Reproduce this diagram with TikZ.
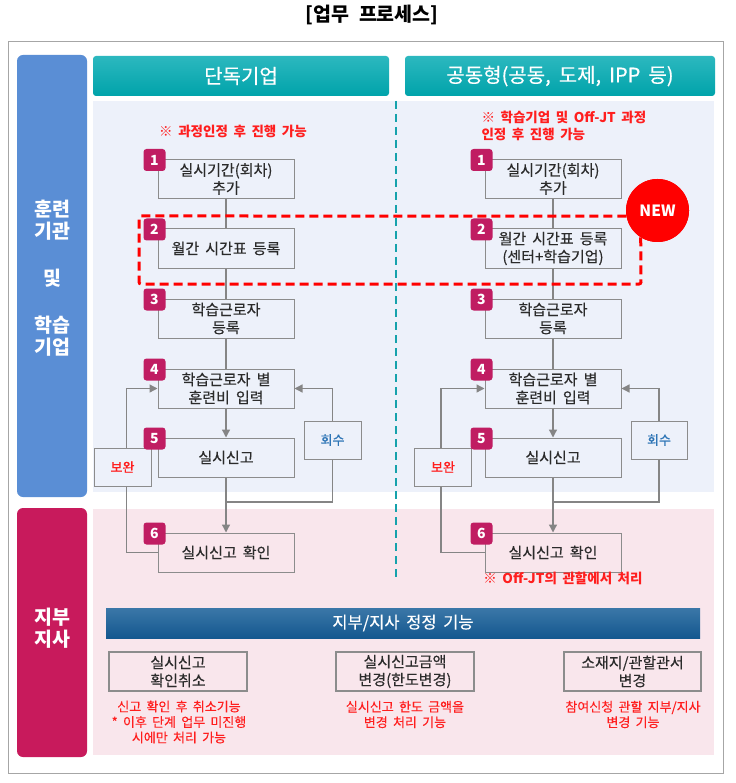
\documentclass[tikz,border=0pt]{standalone}
\usepackage{fontspec}
\setmainfont{Noto Sans CJK KR}[WordSpace=1.8, UprightFeatures={FakeBold=0.3}]
\usetikzlibrary{arrows.meta}
\definecolor{framegray}{HTML}{A6A6A6}
\definecolor{barblue}{HTML}{5A8ED5}
\definecolor{barmag}{HTML}{C81A5C}
\definecolor{badgemag}{HTML}{C01D62}
\definecolor{bgblue}{HTML}{EDF1FA}
\definecolor{bgpink}{HTML}{F9E6EC}
\definecolor{tealtop}{HTML}{2CB8BF}
\definecolor{tealbot}{HTML}{00A3AA}
\definecolor{navytop}{HTML}{3B77A8}
\definecolor{navybot}{HTML}{14588F}
\definecolor{linegray}{HTML}{858585}
\definecolor{boxline}{HTML}{8C8C8C}
\definecolor{txtdark}{HTML}{2B2B2B}
\definecolor{notered}{HTML}{FF1E1E}
\definecolor{newred}{HTML}{FF0000}
\definecolor{dashteal}{HTML}{16A2AC}
\definecolor{hoisublue}{HTML}{2E75B6}
\begin{document}
\begin{tikzpicture}[x=1pt,y=-1pt,
  procbox/.style={draw=boxline, line width=1pt, minimum width=136pt, minimum height=39pt,
    align=center, inner sep=1pt, text=txtdark, font=\fontsize{15}{18}\selectfont},
  sidebox/.style={draw=boxline, line width=1pt, fill=bgblue, minimum width=57pt, minimum height=38pt,
    inner sep=0pt, font=\fontsize{13}{16}\selectfont},
  badge/.style={fill=badgemag, rounded corners=3pt, minimum size=22pt, inner sep=0pt,
    text=white, font=\fontsize{14}{16}\selectfont\bfseries},
  header/.style={rounded corners=3pt, top color=tealtop, bottom color=tealbot, minimum height=40pt,
    text=white, font=\fontsize{20}{24}\selectfont},
  sidetxt/.style={text=white, align=center, font=\fontsize{19.5}{22}\selectfont\bfseries},
  note/.style={text=notered, font=\fontsize{13.5}{16.5}\selectfont\bfseries},
  subnote/.style={text=notered, align=center, font=\fontsize{13}{15.5}\selectfont},
  conn/.style={draw=linegray, line width=1.3pt},
  arr/.style={conn, -{Triangle[length=8pt,width=8pt]}},
  reddash/.style={draw=newred, line width=3pt, dash pattern=on 9pt off 5pt, rounded corners=2pt},
  botbox/.style={draw=boxline, line width=1.2pt, minimum width=138pt, minimum height=39pt,
    align=center, inner sep=1pt, text=txtdark, font=\fontsize{15}{18}\selectfont}
]
\useasboundingbox (0,0) rectangle (735,783);
\fill[white] (0,0) rectangle (735,783);

% title and frame
\node[font=\fontsize{19.5}{22}\selectfont\bfseries] (title) at (372,15) {[업무\hspace{10pt}프로세스]};
\draw[framegray, line width=1pt] (8.5,41.5) rectangle (723,773);

% side bars
\fill[barblue, rounded corners=6pt] (17,55) rectangle (87,497);
\fill[barmag, rounded corners=6pt] (17,508) rectangle (87,757);
\node[sidetxt] (sideA) at (52,278) {훈련\\기관\\[25pt]및\\[25pt]학습\\기업};
\node[sidetxt] (sideB) at (52,628) {지부\\지사};

% backgrounds
\fill[bgblue] (93,101) rectangle (714,492);
\fill[bgpink] (93,509) rectangle (714,755);

% headers
\node[header, minimum width=296pt] (hdA) at (241,76) {단독기업};
\node[header, minimum width=310pt] (hdB) at (560,76) {공동형(공동, 도제, IPP 등)};

% dashed divider
\draw[dashteal, line width=2.2pt, dash pattern=on 8pt off 5pt] (396,101) -- (396,580);

% notes
\node[note] (noteA) at (233,131) {※ 과정인정 후 진행 가능};
\node[note, align=left, anchor=west] (noteB) at (478,126) {※ 학습기업 및 Off-JT 과정\\인정 후 진행 가능};

% ---------------- left column
\node[procbox] (L1) at (226,179) {실시기간(회차)\\추가};
\node[procbox] (L2) at (226,248.5) {월간 시간표 등록};
\node[procbox] (L3) at (226,318.5) {학습근로자\\등록};
\node[procbox] (L4) at (226,388.5) {학습근로자 별\\훈련비 입력};
\node[procbox] (L5) at (226,457.5) {실시신고};
\node[procbox] (L6) at (226,552.5) {실시신고 확인};
\node[sidebox, text=notered] (LB) at (122.5,467) {보완};
\node[sidebox, text=hoisublue] (LH) at (332.5,440) {회수};
\coordinate (LJ) at (226,502);

\draw[conn] (L1.south) -- (L2.north);
\draw[conn] (L2.south) -- (L3.north);
\draw[conn] (L3.south) -- (L4.north);
\draw[arr] (L4.south) -- (L5.north);
\draw[arr] (L5.south) -- (L6.north);
\draw[conn] (LH.south) |- (LJ);
\draw[arr] (LH.north) |- (L4.east);
\draw[arr] ([xshift=4pt]LB.north) |- (L4.west);
\draw[conn] ([xshift=4pt]LB.south) |- (L6.west);

% ---------------- right column
\node[procbox] (R1) at (553,179) {실시기간(회차)\\추가};
\node[procbox] (R2) at (553,248.5) {월간 시간표 등록\\(센터+학습기업)};
\node[procbox] (R3) at (553,318.5) {학습근로자\\등록};
\node[procbox] (R4) at (553,388.5) {학습근로자 별\\훈련비 입력};
\node[procbox] (R5) at (553,457.5) {실시신고};
\node[procbox] (R6) at (553,552.5) {실시신고 확인};
\node[sidebox, text=notered] (RB) at (443,467) {보완};
\node[sidebox, text=hoisublue, minimum width=56pt] (RH) at (659,440) {회수};
\coordinate (RJ) at (553,502);

\draw[conn] (R1.south) -- (R2.north);
\draw[conn] (R2.south) -- (R3.north);
\draw[conn] (R3.south) -- (R4.north);
\draw[arr] (R4.south) -- (R5.north);
\draw[arr] (R5.south) -- (R6.north);
\draw[conn] (RH.south) |- (RJ);
\draw[arr] (RH.north) |- (R4.east);
\draw[arr] ([xshift=-2pt]RB.north) |- (R4.west);
\draw[conn] ([xshift=-2pt]RB.south) |- (R6.west);

\node[note] (noteC) at (563,578) {※ Off-JT의 관할에서 처리};

% badges
\foreach \c/\n in {L1/1,L2/2,L3/3,L4/4,L5/5,L6/6,R1/1,R2/2,R3/3,R4/4,R5/5,R6/6}{
  \node[badge] (b\c) at ([xshift=-3pt,yshift=-1pt]\c.north west) {\n};
}

% NEW highlight
\node[circle, fill=newred, minimum size=63pt, inner sep=0pt] (NEW) at (657.5,210.5) {};
\draw[reddash] (NEW.190) -- (139,216) -- (139,284) -- (641,284) -- (NEW.238);
\node[circle, fill=newred, minimum size=63pt, inner sep=0pt, text=white,
  font=\fontsize{15.5}{18}\selectfont\bfseries] (NEWtxt) at (NEW.center) {NEW};

% bottom section
\node[top color=navytop, bottom color=navybot, minimum width=594pt, minimum height=30pt,
  text=white, font=\fontsize{16.5}{19}\selectfont] (fixbar) at (403,623) {지부/지사 정정 기능};
\node[botbox] (BA) at (178,671.5) {실시신고\\확인취소};
\node[botbox] (BB) at (405,671.5) {실시신고금액\\변경(한도변경)};
\node[botbox, minimum width=137pt] (BC) at (632.5,671.5) {소재지/관할관서\\변경};
\node[subnote] (tA) at (179,722) {신고 확인 후 취소기능\\* 이후 단계 업무 미진행\\시에만 처리 가능};
\node[subnote] (tB) at (405,714.5) {실시신고 한도 금액을\\변경 처리 기능};
\node[subnote] (tC) at (633,714.5) {참여신청 관할 지부/지사\\변경 기능};
\end{tikzpicture}
\end{document}
